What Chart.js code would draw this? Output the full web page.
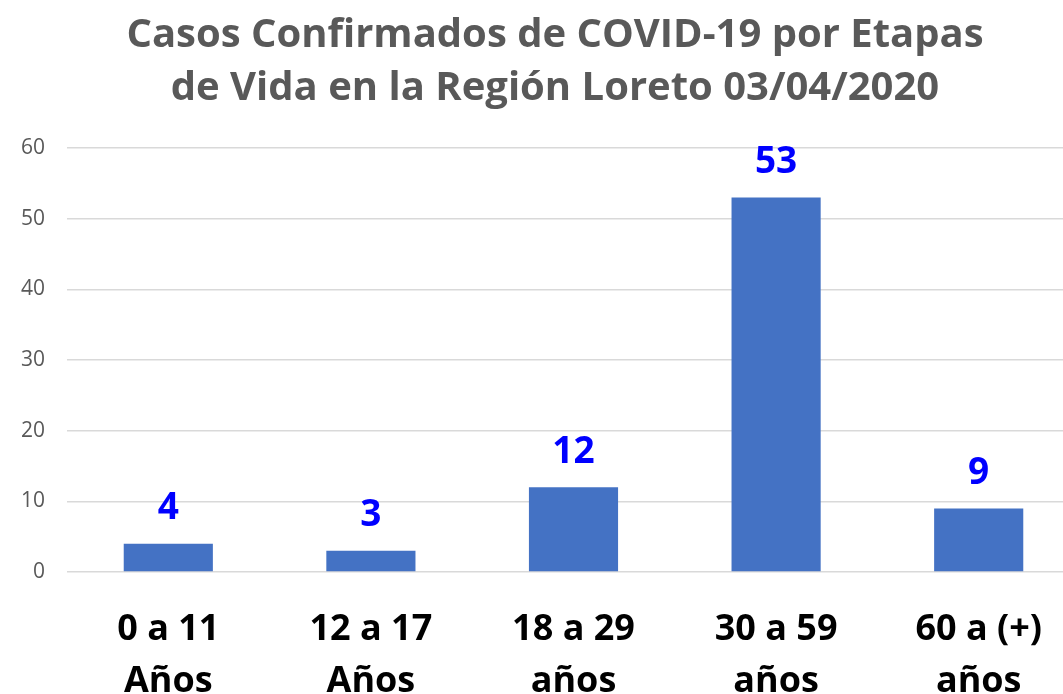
<!DOCTYPE html>
<html><head><meta charset="utf-8">
<script src="https://cdn.jsdelivr.net/npm/chart.js@4/dist/chart.umd.min.js"></script>
<style>
html,body{margin:0;padding:0;background:#fff;overflow:hidden;}
#wrap{width:1080px;height:694px;position:relative;}
</style></head>
<body><div id="wrap"><canvas id="c" width="1080" height="694"></canvas></div>
<script>
const titleLines = ["Casos Confirmados de COVID-19 por Etapas", "de Vida en la Región Loreto 03/04/2020"];
const categories = [["0 a 11","Años"],["12 a 17","Años"],["18 a 29","años"],["30 a 59","años"],["60 a (+)","años"]];
const casos = [4, 3, 12, 53, 9];
const yMin = 0, yMax = 60, yStep = 10;

const titlePlugin = {
  id: 'titlePlugin',
  afterDraw(chart) {
    const ctx = chart.ctx;
    ctx.save();
    ctx.fillStyle = '#595959';
    ctx.font = 'bold 40px "Open Sans"';
    ctx.textAlign = 'center';
    ctx.textBaseline = 'middle';
    titleLines.forEach((t, i) => ctx.fillText(t, 555, 36 + i * 53));
    ctx.restore();
  }
};

const valueLabels = {
  id: 'valueLabels',
  afterDatasetsDraw(chart) {
    const ctx = chart.ctx;
    const meta = chart.getDatasetMeta(0);
    ctx.save();
    ctx.fillStyle = '#0000FF';
    ctx.font = 'bold 37px "Open Sans"';
    ctx.textAlign = 'center';
    ctx.textBaseline = 'middle';
    meta.data.forEach((bar, i) => {
      ctx.fillText(String(chart.data.datasets[0].data[i]), bar.x, bar.y - 35);
    });
    ctx.restore();
  }
};

new Chart(document.getElementById('c'), {
  type: 'bar',
  data: {
    labels: categories,
    datasets: [{
      data: casos,
      backgroundColor: '#4472C4',
      borderWidth: 0,
      barPercentage: 0.88,
      categoryPercentage: 0.5
    }]
  },
  options: {
    responsive: false,
    animation: false,
    layout: { padding: { left: 0, right: 0, top: 148, bottom: 0 } },
    plugins: {
      legend: { display: false },
      tooltip: { enabled: false },
      title: { display: false }
    },
    scales: {
      x: {
        grid: { display: false, drawTicks: false },
        border: { display: false },
        ticks: {
          color: '#000000',
          font: { family: '"Open Sans"', size: 36, weight: 'bold', lineHeight: 1.44 },
          maxRotation: 0, autoSkip: false, padding: 32
        },
        afterFit(s) { s.height = 122; }
      },
      y: {
        min: yMin, max: yMax,
        grid: { color: '#D9D9D9', lineWidth: 1.5, drawTicks: false },
        border: { display: false },
        ticks: {
          stepSize: yStep,
          color: '#595959',
          font: { family: '"Open Sans"', size: 21 },
          padding: 22
        },
        afterFit(s) { s.width = 67; }
      }
    }
  },
  plugins: [valueLabels, titlePlugin]
});
</script></body></html>
